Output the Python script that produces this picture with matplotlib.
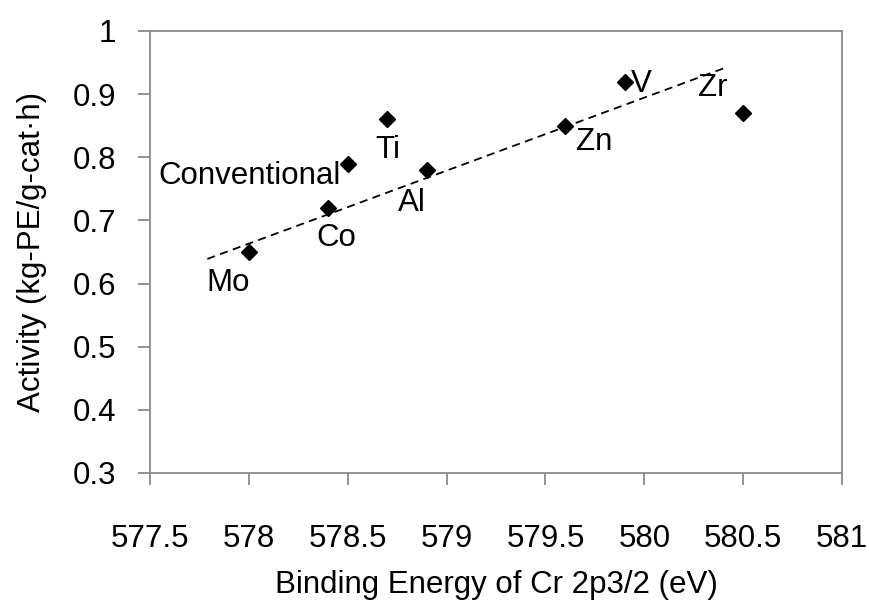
import matplotlib
matplotlib.use("Agg")
import matplotlib.pyplot as plt

plt.rcParams['font.family'] = ['Liberation Sans', 'DejaVu Sans']

labels = ["Mo", "Co", "Conventional", "Ti", "Al", "Zn", "V", "Zr"]
binding_energy = [578.0, 578.4, 578.5, 578.7, 578.9, 579.6, 579.9, 580.5]
activity = [0.65, 0.72, 0.79, 0.86, 0.78, 0.85, 0.92, 0.87]
trend_x = [577.79, 580.42]
trend_y = [0.639, 0.943]
x_ticks = [577.5, 578, 578.5, 579, 579.5, 580, 580.5, 581]
y_ticks = [0.3, 0.4, 0.5, 0.6, 0.7, 0.8, 0.9, 1.0]

# label offsets in points (dx, dy) and alignment
label_style = {
    "Mo": ((-15, -22), "center", "center"),
    "Co": ((6, -22), "center", "center"),
    "Conventional": ((-5, -9), "right", "center"),
    "Ti": ((0, -22), "center", "center"),
    "Al": ((-11, -24), "center", "center"),
    "Zn": ((8, -12), "left", "center"),
    "V": ((4.5, -2), "left", "center"),
    "Zr": ((-22, 18), "center", "center"),
}

FS = 22.5

fig = plt.figure(figsize=(8.7, 6.14), dpi=100)
ax = fig.add_axes([150/870, 1-473/614, (842-150)/870, (473-31)/614])

ax.plot(trend_x, trend_y, color='black', lw=1.3, ls=(0, (4.5, 3)))
ax.plot(binding_energy, activity, ls='none', marker='D', ms=8.5, color='black')

for lab, x, y in zip(labels, binding_energy, activity):
    (dx, dy), ha, va = label_style[lab]
    ax.annotate(lab, (x, y), xytext=(dx, dy), textcoords='offset points',
                ha=ha, va=va, fontsize=FS)

ax.set_xlim(577.5, 581)
ax.set_ylim(0.3, 1.0)
ax.set_xticks(x_ticks)
ax.set_xticklabels([f"{v:g}" for v in x_ticks])
ax.set_yticks(y_ticks)
ax.set_yticklabels([f"{v:g}" for v in y_ticks])

grey = '#898989'
for s in ax.spines.values():
    s.set_color(grey)
    s.set_linewidth(1.3)
ax.tick_params(axis='both', colors=grey, labelcolor='black', labelsize=FS,
               length=8.5, width=1.3, direction='out')
ax.tick_params(axis='x', pad=28)
ax.tick_params(axis='y', pad=16)

ax.set_xlabel("Binding Energy of Cr 2p3/2 (eV)", fontsize=FS, labelpad=12)
ax.set_ylabel("Activity (kg-PE/g-cat·h)", fontsize=FS, labelpad=18)

fig.savefig("out.png", dpi=100)
